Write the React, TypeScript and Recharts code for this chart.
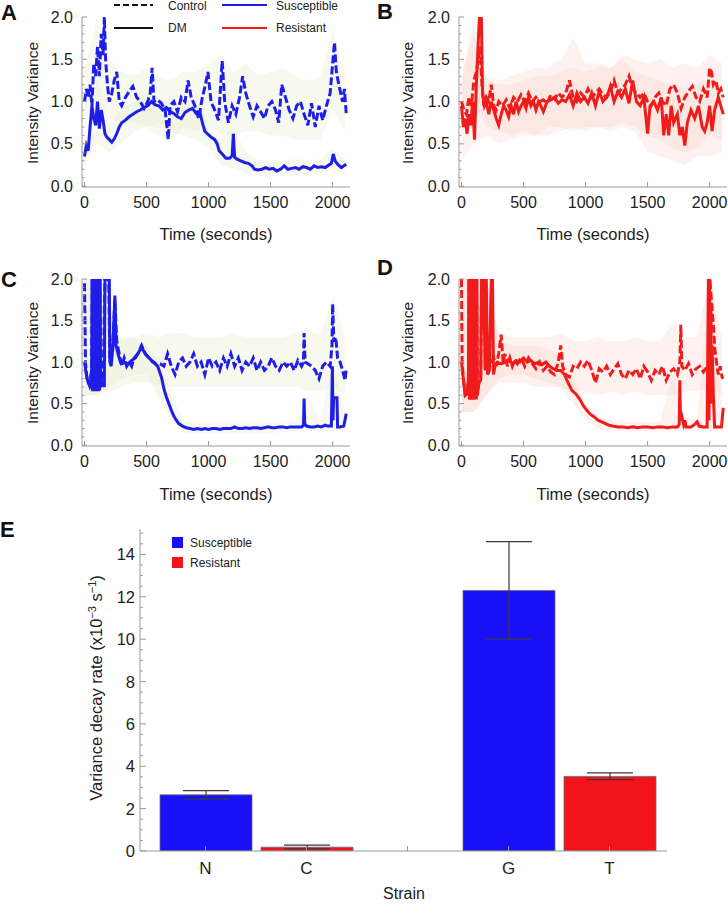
import React from 'react';
import { Area, Bar, BarChart, Cell, ComposedChart, ErrorBar, Line, XAxis, YAxis } from 'recharts';

type Pair = [number, number];

const FONT = '"Liberation Sans", Arial, Helvetica, sans-serif';
const AXIS = '#9a9a9a';
const INK = '#222';
const LINE_BLUE = '#1e1ee8';
const LINE_RED = '#f01c1c';
const BAR_BLUE = '#1a10f8';
const BAR_RED = '#f2141a';
const GREEN_BAND = '#e2eac4';
const PINK_BAND = '#f9d2c4';

// time-course axes
const X_TICKS = [0, 500, 1000, 1500, 2000];
const Y_TICKS = [
  0, 0.1, 0.2, 0.3, 0.4, 0.5, 0.6, 0.7, 0.8, 0.9, 1.0, 1.1, 1.2, 1.3, 1.4, 1.5, 1.6, 1.7, 1.8, 1.9, 2.0,
];
const BAND_T = [0, 100, 200, 300, 400, 500, 600, 700, 800, 900, 1000, 1100, 1200, 1300, 1400, 1500, 1600, 1700, 1800, 1900, 2000, 2100];

// A: susceptible, non-DM strain
const A_DM: Pair[] = [
  [0, 0.35], [15, 0.48], [30, 0.42], [45, 0.7], [60, 0.95], [75, 0.8], [90, 0.72], [105, 1.0], [120, 0.68], [135, 0.9],
  [150, 0.78], [165, 0.62], [180, 0.58], [200, 0.55], [220, 0.52], [240, 0.56], [260, 0.62], [280, 0.7], [300, 0.75],
  [330, 0.78], [360, 0.82], [390, 0.85], [420, 0.88], [450, 0.9], [480, 0.93], [510, 0.95], [540, 1.0], [570, 0.96],
  [600, 0.95], [630, 0.9], [660, 0.93], [690, 0.88], [720, 0.86], [750, 0.82], [780, 0.8], [810, 0.87], [840, 0.9],
  [870, 0.92], [900, 0.86], [930, 0.88], [950, 0.75], [970, 0.65], [990, 0.62], [1020, 0.58], [1050, 0.55], [1070, 0.5],
  [1085, 0.42], [1110, 0.38], [1140, 0.33], [1170, 0.33], [1190, 0.36], [1200, 0.62], [1210, 0.34], [1230, 0.32],
  [1260, 0.3], [1290, 0.28], [1320, 0.27], [1350, 0.24], [1370, 0.2], [1400, 0.19], [1430, 0.2], [1460, 0.22],
  [1490, 0.2], [1520, 0.21], [1550, 0.18], [1580, 0.2], [1610, 0.24], [1640, 0.2], [1670, 0.21], [1700, 0.22],
  [1730, 0.2], [1760, 0.23], [1790, 0.22], [1820, 0.2], [1850, 0.24], [1880, 0.22], [1910, 0.23], [1940, 0.22],
  [1970, 0.25], [1990, 0.27], [2005, 0.38], [2020, 0.3], [2040, 0.26], [2070, 0.22], [2100, 0.25], [2110, 0.26],
];
const A_CTRL: Pair[] = [
  [0, 1.0], [15, 1.15], [30, 1.05], [45, 1.2], [60, 0.95], [75, 1.45], [90, 1.3], [105, 1.65], [120, 1.3], [135, 1.8],
  [150, 1.55], [160, 2.0], [170, 1.5], [185, 1.2], [200, 1.0], [220, 1.1], [240, 1.25], [260, 1.35], [280, 1.0],
  [300, 0.95], [330, 1.05], [360, 1.12], [390, 1.18], [420, 1.05], [450, 1.0], [480, 0.92], [510, 1.0], [530, 1.1],
  [545, 1.4], [560, 1.0], [590, 1.02], [620, 0.98], [650, 0.9], [675, 0.55], [690, 0.95], [720, 1.0], [750, 0.88],
  [780, 1.05], [810, 1.0], [835, 1.25], [860, 1.05], [890, 0.95], [920, 0.8], [950, 1.05], [975, 1.2], [995, 1.35],
  [1020, 1.0], [1050, 0.9], [1080, 0.78], [1100, 1.25], [1110, 1.48], [1130, 1.0], [1160, 0.75], [1190, 0.95],
  [1220, 0.85], [1250, 1.05], [1275, 1.3], [1300, 1.1], [1330, 0.95], [1360, 0.82], [1390, 0.95], [1420, 0.88],
  [1450, 0.8], [1480, 0.95], [1510, 1.0], [1540, 0.9], [1565, 0.75], [1590, 1.2], [1620, 1.05], [1650, 0.9],
  [1680, 0.8], [1710, 0.95], [1740, 1.0], [1770, 0.85], [1800, 0.72], [1830, 0.98], [1860, 0.7], [1890, 0.95],
  [1920, 0.78], [1950, 0.95], [1980, 1.1], [2000, 1.45], [2015, 1.7], [2030, 1.35], [2050, 1.2], [2080, 1.0],
  [2095, 1.15], [2110, 0.85],
];
const A_CTRL_BAND: Pair[] = [
  [0.8, 1.35], [1.0, 2.0], [0.8, 1.5], [0.75, 1.35], [0.75, 1.3], [0.7, 1.4], [0.6, 1.3], [0.55, 1.25], [0.7, 1.35],
  [0.65, 1.35], [0.75, 1.45], [0.6, 1.55], [0.6, 1.35], [0.65, 1.45], [0.65, 1.3], [0.6, 1.35], [0.6, 1.4], [0.55, 1.3],
  [0.55, 1.25], [0.55, 1.3], [0.9, 1.85], [0.65, 1.35],
];
const A_DM_BAND: Pair[] = [
  [0.25, 0.5], [0.5, 1.3], [0.4, 0.75], [0.5, 0.9], [0.65, 1.0], [0.7, 1.1], [0.75, 1.05], [0.65, 1.0], [0.6, 1.0],
  [0.55, 1.0], [0.45, 0.75], [0.25, 0.55], [0.2, 0.7], [0.15, 0.4], [0.12, 0.3], [0.12, 0.3], [0.12, 0.3], [0.12, 0.32],
  [0.14, 0.3], [0.14, 0.32], [0.2, 0.45], [0.15, 0.32],
];

// B: resistant, non-DM strain
const B_DM: Pair[] = [
  [0, 0.95], [15, 0.7], [30, 0.8], [45, 0.62], [60, 0.85], [75, 0.72], [90, 1.0], [105, 0.55], [120, 1.2], [135, 1.7],
  [145, 2.0], [160, 2.0], [170, 1.1], [185, 0.95], [200, 1.0], [220, 0.85], [240, 1.0], [260, 0.9], [280, 0.8],
  [300, 0.72], [320, 0.85], [340, 0.95], [360, 0.9], [380, 0.82], [400, 0.95], [420, 0.85], [440, 1.0], [460, 0.88],
  [480, 0.95], [500, 1.0], [520, 0.92], [540, 1.05], [560, 0.95], [580, 1.0], [600, 0.9], [620, 1.0], [640, 0.95],
  [660, 0.88], [690, 1.0], [720, 1.02], [750, 1.05], [780, 0.98], [810, 1.02], [840, 1.0], [870, 1.08], [900, 0.95],
  [930, 1.1], [960, 1.0], [990, 1.05], [1020, 0.98], [1050, 1.1], [1080, 0.95], [1110, 1.12], [1140, 1.0], [1170, 1.05],
  [1200, 1.18], [1230, 1.0], [1260, 1.12], [1290, 1.05], [1320, 1.15], [1350, 0.98], [1380, 1.25], [1410, 1.0],
  [1440, 0.95], [1470, 1.05], [1500, 0.62], [1520, 0.95], [1550, 1.0], [1580, 0.9], [1610, 1.05], [1630, 0.6],
  [1650, 0.85], [1670, 0.6], [1690, 0.95], [1710, 0.75], [1740, 0.85], [1760, 0.6], [1780, 0.7], [1800, 0.48],
  [1820, 0.75], [1850, 0.9], [1880, 0.8], [1910, 0.95], [1940, 0.7], [1960, 0.65], [1980, 0.75], [2000, 0.95],
  [2020, 0.65], [2040, 0.9], [2070, 1.05], [2090, 0.95], [2110, 0.85],
];
const B_CTRL: Pair[] = [
  [0, 1.0], [20, 0.9], [40, 0.85], [60, 1.05], [80, 0.95], [100, 1.25], [120, 1.35], [135, 1.5], [150, 1.65], [165, 1.2],
  [180, 0.95], [200, 1.05], [220, 1.0], [240, 1.2], [260, 0.95], [280, 0.9], [300, 1.0], [330, 0.95], [360, 1.02],
  [390, 0.92], [420, 1.05], [450, 1.0], [480, 1.08], [510, 1.0], [540, 1.1], [570, 1.0], [600, 1.05], [630, 1.0],
  [660, 1.02], [690, 0.98], [720, 1.08], [750, 1.03], [780, 1.1], [810, 1.05], [840, 1.1], [870, 1.25], [900, 1.05],
  [930, 1.0], [960, 1.1], [990, 1.05], [1020, 1.15], [1050, 1.05], [1080, 1.1], [1110, 1.15], [1140, 1.08], [1170, 1.05],
  [1200, 1.12], [1230, 1.25], [1260, 1.1], [1290, 1.15], [1320, 1.2], [1350, 1.3], [1380, 1.15], [1410, 1.1],
  [1440, 1.05], [1470, 1.1], [1500, 1.0], [1530, 0.95], [1560, 1.05], [1590, 1.1], [1620, 1.0], [1650, 0.95],
  [1680, 1.15], [1710, 1.2], [1740, 1.1], [1770, 0.92], [1800, 1.05], [1830, 1.12], [1860, 1.18], [1890, 1.05],
  [1920, 1.0], [1950, 1.15], [1980, 1.05], [2000, 1.4], [2015, 1.35], [2030, 1.2], [2050, 1.25], [2070, 1.1],
  [2090, 1.15], [2110, 1.05],
];
const B_CTRL_BAND: Pair[] = [
  [0.6, 1.35], [1.0, 1.8], [0.7, 1.3], [0.65, 1.25], [0.6, 1.3], [0.65, 1.35], [0.6, 1.4], [0.6, 1.4], [0.65, 1.5],
  [0.7, 1.75], [0.65, 1.45], [0.7, 1.45], [0.7, 1.4], [0.75, 1.55], [0.7, 1.5], [0.6, 1.45], [0.55, 1.5], [0.45, 1.4],
  [0.4, 1.45], [0.45, 1.4], [0.6, 1.55], [0.55, 1.45],
];
const B_DM_BAND: Pair[] = [
  [0.3, 1.2], [0.5, 2.0], [0.6, 1.25], [0.5, 1.2], [0.55, 1.2], [0.6, 1.25], [0.6, 1.3], [0.7, 1.3], [0.7, 1.35],
  [0.65, 1.4], [0.7, 1.35], [0.7, 1.4], [0.65, 1.4], [0.7, 1.5], [0.65, 1.35], [0.4, 1.3], [0.35, 1.25], [0.3, 1.2],
  [0.25, 1.15], [0.35, 1.2], [0.35, 1.3], [0.4, 1.2],
];

// C: susceptible, DM strain
const C_DM: Pair[] = [
  [0, 1.0], [15, 0.85], [30, 0.75], [45, 0.72], [58, 0.9], [62, 2.0], [66, 0.65], [70, 2.0], [74, 0.66], [78, 2.0],
  [82, 0.65], [86, 2.0], [90, 0.66], [94, 2.0], [98, 0.65], [102, 2.0], [106, 0.66], [110, 2.0], [114, 0.65],
  [118, 2.0], [122, 0.66], [126, 2.0], [130, 0.7], [145, 0.75], [160, 0.7], [165, 2.0], [200, 2.0], [205, 1.0],
  [215, 0.95], [230, 1.2], [245, 1.8], [255, 1.2], [270, 1.1], [290, 1.0], [320, 1.0], [350, 0.98], [380, 1.02],
  [410, 1.05], [430, 1.1], [460, 1.18], [490, 1.1], [520, 1.05], [540, 1.02], [560, 1.0], [590, 0.95], [620, 0.82],
  [640, 0.68], [660, 0.58], [680, 0.5], [700, 0.42], [720, 0.35], [740, 0.3], [760, 0.26], [790, 0.23], [820, 0.21],
  [850, 0.2], [880, 0.19], [910, 0.2], [940, 0.19], [970, 0.2], [1000, 0.19], [1030, 0.2], [1060, 0.2], [1090, 0.19],
  [1120, 0.2], [1150, 0.2], [1180, 0.2], [1210, 0.22], [1240, 0.2], [1270, 0.2], [1300, 0.21], [1330, 0.2],
  [1360, 0.21], [1390, 0.21], [1420, 0.2], [1450, 0.21], [1480, 0.22], [1510, 0.21], [1540, 0.21], [1570, 0.22],
  [1600, 0.22], [1630, 0.21], [1660, 0.22], [1690, 0.22], [1720, 0.22], [1750, 0.22], [1765, 0.24], [1770, 0.56],
  [1775, 0.26], [1790, 0.23], [1820, 0.22], [1850, 0.22], [1880, 0.23], [1910, 0.22], [1940, 0.24], [1960, 0.23],
  [1990, 0.23], [1998, 0.95], [2003, 0.3], [2008, 0.57], [2035, 0.57], [2040, 0.22], [2060, 0.22], [2090, 0.23],
  [2110, 0.38],
];
const C_CTRL: Pair[] = [
  [0, 1.95], [8, 1.0], [20, 0.8], [40, 0.72], [58, 0.9], [62, 2.0], [68, 0.7], [76, 2.0], [84, 0.7], [92, 2.0],
  [100, 0.7], [108, 2.0], [116, 0.7], [124, 2.0], [130, 0.72], [150, 0.72], [165, 2.0], [195, 2.0], [205, 1.0],
  [225, 1.1], [245, 1.75], [260, 1.25], [280, 1.1], [300, 0.95], [320, 1.05], [340, 0.95], [360, 1.0], [380, 0.95],
  [400, 1.05], [430, 1.1], [460, 1.2], [490, 1.1], [520, 1.05], [550, 1.0], [580, 0.97], [610, 0.98], [640, 0.95],
  [670, 1.1], [700, 0.95], [730, 0.85], [760, 1.0], [790, 1.05], [820, 0.95], [850, 1.0], [880, 1.1], [910, 0.95],
  [940, 1.0], [970, 0.85], [1000, 1.05], [1030, 0.95], [1060, 1.0], [1090, 0.9], [1120, 1.05], [1150, 0.95],
  [1180, 1.1], [1210, 0.95], [1240, 1.05], [1270, 0.9], [1300, 1.0], [1330, 0.95], [1360, 1.05], [1390, 0.9],
  [1420, 1.0], [1450, 0.9], [1480, 0.95], [1510, 1.05], [1540, 0.95], [1570, 0.9], [1600, 1.0], [1630, 0.95],
  [1660, 1.0], [1690, 0.9], [1720, 1.02], [1750, 0.95], [1765, 1.0], [1770, 1.35], [1778, 1.0], [1800, 0.98],
  [1830, 0.95], [1860, 0.9], [1890, 0.8], [1920, 0.95], [1950, 1.0], [1980, 0.95], [1995, 1.2], [2000, 1.7],
  [2010, 1.25], [2025, 1.3], [2040, 1.05], [2060, 1.0], [2080, 0.9], [2100, 0.78], [2110, 0.92],
];
const C_CTRL_BAND: Pair[] = [
  [0.6, 2.0], [0.6, 2.0], [0.65, 1.6], [0.7, 1.3], [0.75, 1.3], [0.75, 1.35], [0.7, 1.3], [0.7, 1.35], [0.7, 1.35],
  [0.7, 1.3], [0.7, 1.3], [0.7, 1.3], [0.7, 1.35], [0.7, 1.3], [0.7, 1.3], [0.7, 1.3], [0.7, 1.3], [0.7, 1.35],
  [0.65, 1.4], [0.65, 1.3], [0.7, 1.8], [0.6, 1.3],
];
const C_DM_BAND: Pair[] = [
  [0.6, 2.0], [0.6, 2.0], [0.7, 1.6], [0.8, 1.25], [0.85, 1.3], [0.85, 1.2], [0.55, 1.05], [0.3, 0.6], [0.15, 0.3],
  [0.15, 0.27], [0.15, 0.27], [0.15, 0.27], [0.15, 0.27], [0.15, 0.27], [0.15, 0.27], [0.15, 0.28], [0.16, 0.28],
  [0.16, 0.3], [0.17, 0.6], [0.17, 0.3], [0.17, 1.0], [0.18, 0.4],
];

// D: resistant, DM strain
const D_DM: Pair[] = [
  [0, 1.0], [15, 0.8], [30, 0.6], [45, 0.62], [56, 0.8], [60, 2.0], [64, 0.55], [68, 2.0], [72, 0.55], [76, 2.0],
  [80, 0.55], [84, 2.0], [88, 0.55], [92, 2.0], [96, 0.55], [100, 2.0], [104, 0.55], [108, 2.0], [112, 0.55],
  [116, 2.0], [120, 0.55], [124, 2.0], [128, 0.6], [140, 0.75], [155, 0.78], [162, 2.0], [170, 1.4], [180, 2.0],
  [190, 0.9], [200, 2.0], [210, 0.85], [225, 0.9], [240, 2.0], [250, 2.0], [258, 0.85], [270, 0.95], [290, 1.0],
  [320, 0.98], [350, 1.0], [380, 1.03], [410, 0.98], [440, 1.02], [470, 1.0], [500, 1.05], [530, 1.0], [560, 1.02],
  [590, 0.98], [620, 1.0], [650, 0.97], [680, 1.0], [710, 0.95], [740, 0.92], [770, 0.9], [800, 0.9], [830, 0.85],
  [860, 0.75], [890, 0.66], [920, 0.62], [950, 0.56], [980, 0.48], [1010, 0.42], [1040, 0.37], [1070, 0.34],
  [1100, 0.3], [1130, 0.28], [1160, 0.26], [1190, 0.24], [1220, 0.23], [1260, 0.22], [1300, 0.22], [1340, 0.21],
  [1380, 0.22], [1420, 0.21], [1460, 0.22], [1500, 0.22], [1540, 0.21], [1580, 0.22], [1620, 0.22], [1660, 0.21],
  [1700, 0.22], [1740, 0.22], [1755, 0.25], [1760, 0.78], [1765, 0.3], [1775, 0.35], [1790, 0.25], [1800, 0.3],
  [1810, 0.22], [1850, 0.22], [1880, 0.25], [1900, 0.28], [1915, 0.23], [1950, 0.22], [1980, 0.22], [1990, 2.0],
  [1995, 0.3], [2000, 2.0], [2005, 0.5], [2010, 1.7], [2015, 0.5], [2020, 1.2], [2030, 0.6], [2040, 0.22],
  [2070, 0.22], [2095, 0.22], [2110, 0.45],
];
const D_CTRL: Pair[] = [
  [0, 2.0], [5, 1.0], [15, 0.8], [30, 0.6], [45, 0.62], [56, 0.8], [60, 2.0], [66, 0.55], [74, 2.0], [82, 0.55],
  [90, 2.0], [98, 0.55], [106, 2.0], [114, 0.55], [122, 2.0], [128, 0.6], [140, 0.75], [155, 0.78], [162, 2.0],
  [175, 1.5], [185, 2.0], [195, 1.7], [205, 0.9], [215, 0.88], [240, 1.0], [260, 1.05], [280, 0.95], [300, 1.1],
  [320, 1.33], [335, 1.0], [350, 1.1], [370, 0.95], [390, 1.05], [410, 0.95], [430, 1.02], [450, 0.98], [480, 1.05],
  [510, 0.95], [540, 1.05], [570, 0.98], [600, 0.92], [630, 1.0], [660, 0.9], [690, 0.95], [720, 0.88], [750, 0.85],
  [780, 1.0], [800, 1.2], [815, 0.95], [840, 0.85], [870, 0.82], [900, 0.95], [930, 0.92], [960, 1.0], [990, 0.95],
  [1020, 1.02], [1050, 0.9], [1080, 0.75], [1110, 0.92], [1140, 0.88], [1170, 0.95], [1200, 0.85], [1230, 0.92],
  [1260, 0.98], [1290, 0.85], [1320, 0.8], [1350, 0.9], [1380, 0.85], [1410, 0.92], [1440, 0.8], [1470, 0.95],
  [1500, 0.88], [1530, 0.78], [1560, 0.9], [1590, 0.85], [1620, 0.95], [1650, 0.78], [1680, 0.88], [1710, 0.92],
  [1740, 0.85], [1760, 1.0], [1768, 1.45], [1776, 0.95], [1800, 0.9], [1830, 0.98], [1860, 0.85], [1890, 0.92],
  [1920, 0.95], [1950, 0.88], [1980, 0.95], [1995, 1.0], [2002, 2.0], [2012, 1.8], [2022, 1.6], [2032, 1.4],
  [2042, 1.15], [2055, 1.0], [2070, 0.85], [2085, 0.95], [2100, 0.82], [2110, 0.8],
];
const D_CTRL_BAND: Pair[] = [
  [0.4, 2.0], [0.4, 2.0], [0.6, 2.0], [0.75, 1.35], [0.75, 1.3], [0.75, 1.3], [0.7, 1.3], [0.7, 1.3], [0.7, 1.35],
  [0.65, 1.25], [0.65, 1.25], [0.6, 1.3], [0.65, 1.25], [0.6, 1.25], [0.65, 1.3], [0.6, 1.25], [0.6, 1.25],
  [0.6, 1.45], [0.65, 1.3], [0.65, 1.3], [0.7, 2.0], [0.6, 1.3],
];
const D_DM_BAND: Pair[] = [
  [0.4, 2.0], [0.4, 2.0], [0.6, 2.0], [0.8, 1.25], [0.85, 1.2], [0.85, 1.2], [0.8, 1.2], [0.75, 1.15], [0.7, 1.1],
  [0.5, 0.8], [0.3, 0.5], [0.2, 0.35], [0.17, 0.3], [0.17, 0.28], [0.17, 0.28], [0.17, 0.28], [0.17, 0.28],
  [0.17, 0.85], [0.17, 0.35], [0.17, 0.3], [0.17, 2.0], [0.17, 0.5],
];

// E: variance decay rate per strain (blank slot separates the two pairs)
const STRAINS = ['N', 'C', '', 'G', 'T'];
const STRAIN_GROUP = ['Susceptible', 'Resistant', '', 'Susceptible', 'Resistant'];
const DECAY_RATE = [2.65, 0.18, null, 12.3, 3.52];
const DECAY_ERR: ([number, number] | null)[] = [[0.2, 0.2], [0.08, 0.1], null, [2.3, 2.3], [0.15, 0.17]];
const E_TICKS = [
  0, 0.5, 1, 1.5, 2, 2.5, 3, 3.5, 4, 4.5, 5, 5.5, 6, 6.5, 7, 7.5, 8, 8.5, 9, 9.5, 10, 10.5, 11, 11.5, 12, 12.5, 13,
  13.5, 14, 14.5, 15,
];

const toPoints = (pairs: Pair[]) => pairs.map(([t, v]) => ({ t, v }));
const toBand = (lohi: Pair[]) => BAND_T.map((t, i) => ({ t, band: lohi[i] }));

const TICK_GAP = 9;

function TimeTick(props: any) {
  const { x, y, payload } = props;
  const axisY = y - TICK_GAP;
  return (
    <g>
      <line x1={x} x2={x} y1={axisY} y2={axisY - 5} stroke={AXIS} />
      <text x={x} y={axisY + 21} textAnchor="middle" fontSize={16} fill={INK} fontFamily={FONT}>
        {payload.value}
      </text>
    </g>
  );
}

function VarianceTick(props: any) {
  const { x, y, payload } = props;
  const v = payload.value as number;
  const axisX = x + TICK_GAP;
  const major = Math.abs(v * 2 - Math.round(v * 2)) < 1e-6;
  return (
    <g>
      <line x1={axisX} x2={axisX + (major ? 5 : 2.5)} y1={y} y2={y} stroke={AXIS} />
      {major ? (
        <text x={x} y={y + 5.5} textAnchor="end" fontSize={16} fill={INK} fontFamily={FONT}>
          {v.toFixed(1)}
        </text>
      ) : null}
    </g>
  );
}

function LinePanel({
  left,
  top,
  plotHeight,
  ctrl,
  dm,
  ctrlBand,
  dmBand,
  color,
  bandColor,
}: {
  left: number;
  top: number;
  plotHeight: number;
  ctrl: Pair[];
  dm: Pair[];
  ctrlBand: Pair[];
  dmBand: Pair[];
  color: string;
  bandColor: string;
}) {
  const width = 351;
  const height = 17 + plotHeight + 40;
  return (
    <div style={{ position: 'absolute', left, top, width, height }}>
      <ComposedChart width={width} height={height} margin={{ top: 17, right: 1, bottom: 0, left: 42 }}>
        <XAxis
          type="number"
          dataKey="t"
          domain={[-20, 2140]}
          ticks={X_TICKS}
          interval={0}
          allowDataOverflow
          height={40}
          tickSize={0}
          tickMargin={TICK_GAP}
          tickLine={false}
          axisLine={{ stroke: AXIS }}
          tick={(p: any) => <TimeTick {...p} />}
        />
        <YAxis
          type="number"
          domain={[-0.01, 2]}
          ticks={Y_TICKS}
          interval={0}
          allowDataOverflow
          width={40}
          tickSize={0}
          tickMargin={TICK_GAP}
          tickLine={false}
          axisLine={{ stroke: AXIS }}
          tick={(p: any) => <VarianceTick {...p} />}
        />
        <Area
          data={toBand(ctrlBand)}
          dataKey="band"
          type="linear"
          stroke="none"
          fill={bandColor}
          fillOpacity={0.28}
          isAnimationActive={false}
        />
        <Area
          data={toBand(dmBand)}
          dataKey="band"
          type="linear"
          stroke="none"
          fill={bandColor}
          fillOpacity={0.28}
          isAnimationActive={false}
        />
        <Line
          data={toPoints(dm)}
          dataKey="v"
          type="linear"
          stroke={color}
          strokeWidth={3}
          dot={false}
          activeDot={false}
          isAnimationActive={false}
        />
        <Line
          data={toPoints(ctrl)}
          dataKey="v"
          type="linear"
          stroke={color}
          strokeWidth={3}
          strokeDasharray="8 3"
          dot={false}
          activeDot={false}
          isAnimationActive={false}
        />
      </ComposedChart>
    </div>
  );
}

function StrainTick(props: any) {
  const { x, y, payload } = props;
  const axisY = y - TICK_GAP;
  return (
    <g>
      <line x1={x} x2={x} y1={axisY} y2={axisY - 5} stroke={AXIS} />
      {payload.value ? (
        <text x={x} y={axisY + 23} textAnchor="middle" fontSize={17} fill={INK} fontFamily={FONT}>
          {payload.value}
        </text>
      ) : null}
    </g>
  );
}

function RateTick(props: any) {
  const { x, y, payload } = props;
  const v = payload.value as number;
  const axisX = x + TICK_GAP;
  const major = v % 2 === 0;
  return (
    <g>
      <line x1={axisX} x2={axisX + (major ? 6 : 3)} y1={y} y2={y} stroke={AXIS} />
      {major ? (
        <text x={x + 4} y={y + 6} textAnchor="end" fontSize={16.5} fill={INK} fontFamily={FONT}>
          {v}
        </text>
      ) : null}
    </g>
  );
}

const rateRows = STRAINS.map((strain, i) => ({
  strain,
  group: STRAIN_GROUP[i],
  rate: DECAY_RATE[i],
  err: DECAY_ERR[i],
}));

function DecayBars() {
  return (
    <div style={{ position: 'absolute', left: 0, top: 500, width: 728, height: 395 }}>
      <BarChart
        width={728}
        height={395}
        data={rateRows}
        margin={{ top: 29, right: 61, bottom: 14, left: 100 }}
        barSize={92}
      >
        <XAxis
          dataKey="strain"
          type="category"
          interval={0}
          padding={{ left: 15, right: 7 }}
          height={30}
          tickSize={0}
          tickMargin={TICK_GAP}
          tickLine={false}
          axisLine={{ stroke: AXIS }}
          tick={(p: any) => <StrainTick {...p} />}
        />
        <YAxis
          type="number"
          domain={[0, 15.2]}
          ticks={E_TICKS}
          interval={0}
          allowDataOverflow
          width={40}
          tickSize={0}
          tickMargin={TICK_GAP}
          tickLine={false}
          axisLine={{ stroke: AXIS }}
          tick={(p: any) => <RateTick {...p} />}
        />
        <Bar dataKey="rate" stroke="#6b6b6b" strokeWidth={0.8} isAnimationActive={false}>
          {rateRows.map((row, i) => (
            <Cell key={i} fill={row.group === 'Resistant' ? BAR_RED : BAR_BLUE} />
          ))}
          <ErrorBar dataKey="err" direction="y" width={23} stroke="#3a3a3a" strokeWidth={1.2} />
        </Bar>
      </BarChart>
    </div>
  );
}

function Overlay() {
  const letter = { fontSize: 22, fontWeight: 700, fill: '#111', fontFamily: FONT };
  const title = { fontSize: 15.5, fill: INK, fontFamily: FONT };
  const legend = { fontSize: 12, fill: INK, fontFamily: FONT };
  const yTitle = (cx: number, cy: number) => (
    <text transform={`translate(${cx},${cy}) rotate(-90)`} textAnchor="middle" dy={5} style={title}>
      Intensity Variance
    </text>
  );
  const xTitle = (cx: number, baseline: number) => (
    <text x={cx} y={baseline} textAnchor="middle" style={{ ...title, fontSize: 16.5 }}>
      Time (seconds)
    </text>
  );
  return (
    <svg width={728} height={904} style={{ position: 'absolute', left: 0, top: 0, pointerEvents: 'none' }}>
      <text x={1} y={20} style={letter}>A</text>
      <text x={377} y={19} style={letter}>B</text>
      <text x={1} y={287} style={letter}>C</text>
      <text x={377} y={275} style={letter}>D</text>
      <text x={0} y={537} style={letter}>E</text>

      {yTitle(33, 103)}
      {yTitle(408, 103)}
      {yTitle(33, 363)}
      {yTitle(408, 363)}
      {xTitle(216, 240)}
      {xTitle(593, 240)}
      {xTitle(216, 500)}
      {xTitle(593, 500)}

      <line x1={114} x2={153} y1={5} y2={5} stroke="#111" strokeWidth={2} strokeDasharray="6 3" />
      <text x={168} y={9.5} style={legend}>Control</text>
      <line x1={114} x2={153} y1={28} y2={28} stroke="#111" strokeWidth={2} />
      <text x={168} y={32} style={legend}>DM</text>
      <line x1={222} x2={267} y1={5} y2={5} stroke={LINE_BLUE} strokeWidth={2} />
      <text x={276} y={9.5} style={legend}>Susceptible</text>
      <line x1={222} x2={267} y1={28} y2={28} stroke={LINE_RED} strokeWidth={2} />
      <text x={276} y={32} style={legend}>Resistant</text>

      <text transform="translate(97,688) rotate(-90)" textAnchor="middle" dy={5} style={{ ...title, fontSize: 16.5 }}>
        Variance decay rate (x10
        <tspan dy={-6} fontSize={11}>−3</tspan>
        <tspan dy={6}> s</tspan>
        <tspan dy={-6} fontSize={11}>−1</tspan>
        <tspan dy={6}>)</tspan>
      </text>
      <text x={404} y={899} textAnchor="middle" style={{ ...title, fontSize: 16 }}>Strain</text>

      <rect x={172} y={537} width={11} height={11} fill={BAR_BLUE} />
      <text x={190} y={547} style={legend}>Susceptible</text>
      <rect x={172} y={557} width={11} height={11} fill={BAR_RED} />
      <text x={190} y={567} style={legend}>Resistant</text>
    </svg>
  );
}

export default function App() {
  return (
    <div
      style={{
        position: 'absolute',
        left: 0,
        top: 0,
        width: 728,
        height: 904,
        overflow: 'hidden',
        background: '#fff',
        fontFamily: FONT,
      }}
    >
      <LinePanel left={0} top={0} plotHeight={170} ctrl={A_CTRL} dm={A_DM} ctrlBand={A_CTRL_BAND} dmBand={A_DM_BAND} color={LINE_BLUE} bandColor={GREEN_BAND} />
      <LinePanel left={377} top={0} plotHeight={170} ctrl={B_CTRL} dm={B_DM} ctrlBand={B_CTRL_BAND} dmBand={B_DM_BAND} color={LINE_RED} bandColor={PINK_BAND} />
      <LinePanel left={0} top={262} plotHeight={167} ctrl={C_CTRL} dm={C_DM} ctrlBand={C_CTRL_BAND} dmBand={C_DM_BAND} color={LINE_BLUE} bandColor={GREEN_BAND} />
      <LinePanel left={377} top={262} plotHeight={167} ctrl={D_CTRL} dm={D_DM} ctrlBand={D_CTRL_BAND} dmBand={D_DM_BAND} color={LINE_RED} bandColor={PINK_BAND} />
      <DecayBars />
      <Overlay />
    </div>
  );
}
